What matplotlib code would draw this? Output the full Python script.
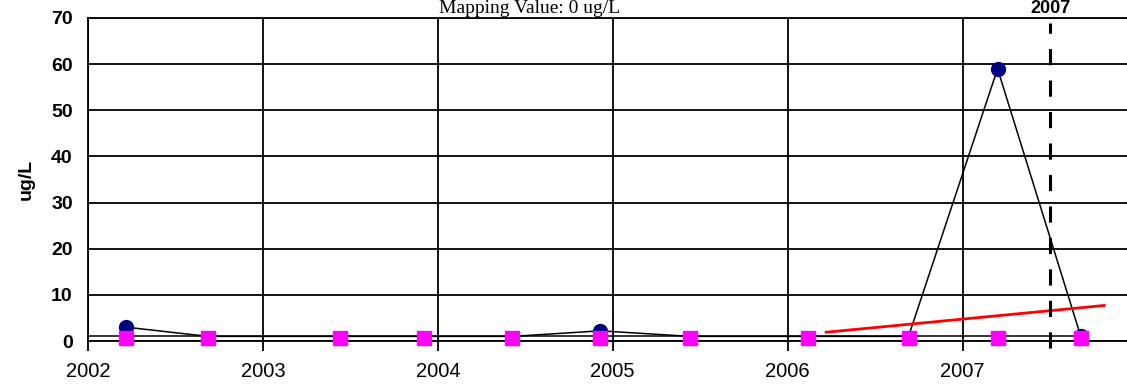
import matplotlib
matplotlib.use("Agg")
import matplotlib.pyplot as plt
from matplotlib.transforms import blended_transform_factory

# sample dates (decimal years) and concentrations, ug/L
dates = [2002.217, 2002.686, 2003.442, 2003.922, 2004.426, 2004.929,
         2005.444, 2006.119, 2006.691, 2007.200, 2007.675]
values = [3.0, 1.0, 1.0, 1.0, 1.0, 2.2, 1.0, 1.0, 1.0, 59.0, 1.1]
detected = [True, False, False, False, False, True,
            False, False, False, True, True]
report_limit = [0.7] * len(dates)

# trend line end points
trend_x = [2006.22, 2007.81]
trend_y = [1.9, 7.7]

marker_year = 2007.5
marker_label = "2007"
title = "Mapping Value: 0 ug/L"
year_ticks = [2002, 2003, 2004, 2005, 2006, 2007]
y_ticks = [0, 10, 20, 30, 40, 50, 60, 70]

fig = plt.figure(figsize=(11.27, 3.85), dpi=100)
ax = fig.add_axes([88 / 1127, 1 - 341 / 385, 1 - 88 / 1127, (341 - 18) / 385])

ax.set_xlim(2002, 2007.94)
ax.set_ylim(0, 70)
ax.set_xticks(year_ticks)
ax.set_yticks(y_ticks)
ax.set_xticklabels([str(y) for y in year_ticks], fontsize=14.5,
                   family="Liberation Sans")
ax.set_yticklabels([str(v) for v in y_ticks], fontsize=14,
                   family="Liberation Sans", fontweight="bold")
ax.grid(True, color="black", linewidth=1.3)
ax.set_axisbelow(True)
ax.tick_params(axis="x", length=7, width=1.3, pad=8, color="black")
ax.tick_params(axis="y", length=0, pad=11)
ax.spines["right"].set_visible(False)
for side in ("left", "bottom", "top"):
    ax.spines[side].set_linewidth(1.3)

ax.set_ylabel("ug/L", fontsize=14, family="Liberation Sans",
              fontweight="bold", labelpad=12)

# horizontal line at reporting level
ax.hlines(1.0, 2002, dates[-1], color="black", linewidth=1.1, zorder=3)
# measured series
ax.plot(dates, values, color="black", linewidth=1.1, zorder=3)
det_x = [d for d, f in zip(dates, detected) if f]
det_y = [v for v, f in zip(values, detected) if f]
ax.plot(det_x, det_y, "o", color="#000080", markersize=10, zorder=4,
        linestyle="none")
ax.plot(dates, report_limit, "s", color="#FF00FF", markersize=10, zorder=5,
        linestyle="none", clip_on=False)

# trend
ax.plot(trend_x, trend_y, color="#FF0000", linewidth=2.0, zorder=4)

# dashed reference year
ax.plot([marker_year, marker_year], [-1.5, 69.0], color="black",
        linewidth=2.2, dashes=(5.3, 5.0), clip_on=False, zorder=6)
ax.text(marker_year, 0.999, marker_label, ha="center", va="top",
        fontsize=13, fontweight="bold", family="Liberation Sans",
        transform=blended_transform_factory(ax.transData, fig.transFigure))

fig.text(530 / 1127, 0.999, title, ha="center", va="top",
         fontsize=14, family="Liberation Serif")

fig.savefig("out.png", dpi=100)
